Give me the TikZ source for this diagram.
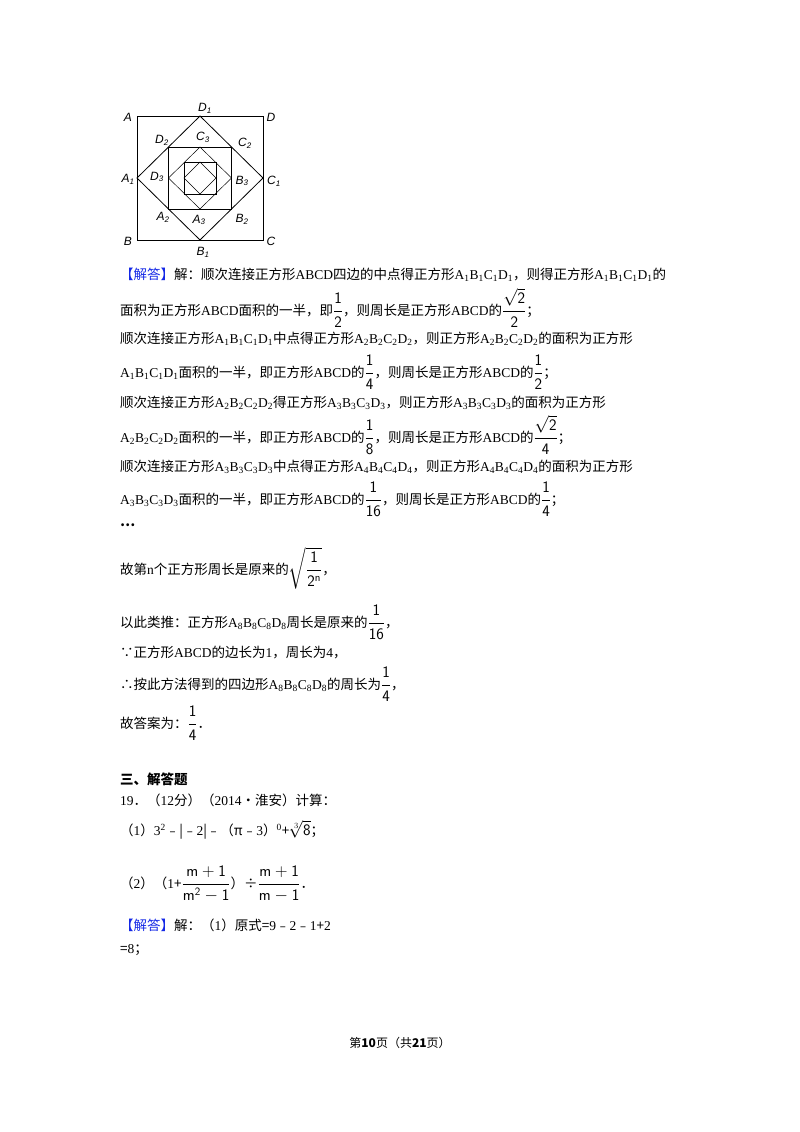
\documentclass[tikz,border=0pt]{standalone}
\usepackage{amsmath}
\usepackage{fontspec}
\setmainfont{Noto Sans CJK SC}
\newfontfamily\lt{Liberation Serif}
\newfontfamily\ls{Liberation Sans}
\newcommand\Q[1]{{\lt A\textsubscript{#1}B\textsubscript{#1}C\textsubscript{#1}D\textsubscript{#1}}}
\newcommand\Lt[1]{{\lt #1}}
\newcommand\fr[2]{{\fontsize{16}{18}\selectfont$\dfrac{\mathsf{#1}}{\mathsf{#2}}$}}
\definecolor{jd}{RGB}{20,40,230}
\begin{document}
\begin{tikzpicture}[x=1pt,y=-1pt,
  ln/.style={anchor=west,inner sep=0pt,font=\fontsize{13.5}{16}\selectfont},
  lab/.style={font=\ls\itshape\fontsize{12}{13}\selectfont,inner sep=1pt},
  sq/.style={line width=0.8pt}]
\useasboundingbox (0,0) rectangle (800,1132);
% figure
\draw[sq] (137,116) rectangle (263,240);
\draw[sq] (200,116) -- (263,178) -- (200,240) -- (137,178) -- cycle;
\draw[sq] (168.5,147) rectangle (231.5,209);
\draw[line width=0.5pt] (200,147) -- (231.5,178) -- (200,209) -- (168.5,178) -- cycle;
\draw[sq] (184,162) rectangle (216,194);
\draw[line width=0.5pt] (200,162) -- (216,178) -- (200,194) -- (184,178) -- cycle;
\node[lab] (lA) at (128,117) {A};
\node[lab] (lD) at (271,117) {D};
\node[lab] (lB) at (128,241) {B};
\node[lab] (lC) at (271,241) {C};
\node[lab] (lD1) at (205,108) {D\textsubscript{1}};
\node[lab] (lB1) at (203,252) {B\textsubscript{1}};
\node[lab] (lA1) at (128,179) {A\textsubscript{1}};
\node[lab] (lC1) at (274,181) {C\textsubscript{1}};
\node[lab] (lD2) at (162,140) {D\textsubscript{2}};
\node[lab] (lC2) at (245,143) {C\textsubscript{2}};
\node[lab] (lA2) at (163,217) {A\textsubscript{2}};
\node[lab] (lB2) at (242,219) {B\textsubscript{2}};
\node[lab] (lC3) at (203,137) {C\textsubscript{3}};
\node[lab] (lD3) at (157,177) {D\textsubscript{3}};
\node[lab] (lB3) at (242,181) {B\textsubscript{3}};
\node[lab] (lA3) at (199,220) {A\textsubscript{3}};
% text
\node[ln] (t1) at (120,275) {{\color{jd}【解答】}解：顺次连接正方形\Lt{ABCD}四边的中点得正方形\Q1，则得正方形\Q1的};
\node[ln] (t2) at (120,308) {面积为正方形\Lt{ABCD}面积的一半，即\fr12，则周长是正方形\Lt{ABCD}的\fr{\sqrt{2}}{2}；};
\node[ln] (t3) at (120,339) {顺次连接正方形\Q1中点得正方形\Q2，则正方形\Q2的面积为正方形};
\node[ln] (t4) at (120,372) {\Q1面积的一半，即正方形\Lt{ABCD}的\fr14，则周长是正方形\Lt{ABCD}的\fr12；};
\node[ln] (t5) at (120,403) {顺次连接正方形\Q2得正方形\Q3，则正方形\Q3的面积为正方形};
\node[ln] (t6) at (120,435) {\Q2面积的一半，即正方形\Lt{ABCD}的\fr18，则周长是正方形\Lt{ABCD}的\fr{\sqrt{2}}{4}；};
\node[ln] (t7) at (120,467) {顺次连接正方形\Q3中点得正方形\Q4，则正方形\Q4的面积为正方形};
\node[ln] (t8) at (120,499) {\Q3面积的一半，即正方形\Lt{ABCD}的\fr1{16}，则周长是正方形\Lt{ABCD}的\fr14；};
\node[ln] (t9) at (120,525) {\textbf{…}};
\node[ln] (t10) at (120,568) {故第\Lt{n}个正方形周长是原来的{\fontsize{16}{18}\selectfont$\sqrt{\dfrac{\mathsf 1}{\mathsf 2^{\mathsf n}}}$}，};
\node[ln] (t11) at (120,622) {以此类推：正方形\Q8周长是原来的\fr1{16}，};
\node[ln] (t12) at (120,653) {∵正方形\Lt{ABCD}的边长为\Lt1，周长为\Lt4，};
\node[ln] (t13) at (120,684) {∴按此方法得到的四边形\Q8的周长为\fr14，};
\node[ln] (t14) at (120,723) {故答案为：\fr14．};
\node[ln,font=\bfseries\fontsize{13.5}{16}\selectfont] (t15) at (120,779) {三、解答题};
\node[ln] (t16) at (120,800) {\Lt{19}．（\Lt{12}分）（\Lt{2014}•淮安）计算：};
\node[ln] (t17) at (120,830) {（\Lt1）\Lt{3\textsuperscript{2}}﹣|﹣\Lt2|﹣（π﹣\Lt3）\Lt{\textsuperscript0}+{\fontsize{16}{18}\selectfont$\sqrt[3]{\mathsf 8}$}；};
\node[ln] (t18) at (120,884) {（\Lt2）（\Lt1+\fr{m+1}{m^{2}-1}）÷\fr{m+1}{m-1}．};
\node[ln] (t19) at (120,925) {{\color{jd}【解答】}解：（\Lt1）原式=\Lt9﹣\Lt2﹣\Lt1+\Lt2};
\node[ln] (t20) at (120,950) {=\Lt8；};
\node[font=\fontsize{12}{14}\selectfont] (ft) at (400,1043) {第\textbf{10}页（共\textbf{21}页）};
\end{tikzpicture}
\end{document}
